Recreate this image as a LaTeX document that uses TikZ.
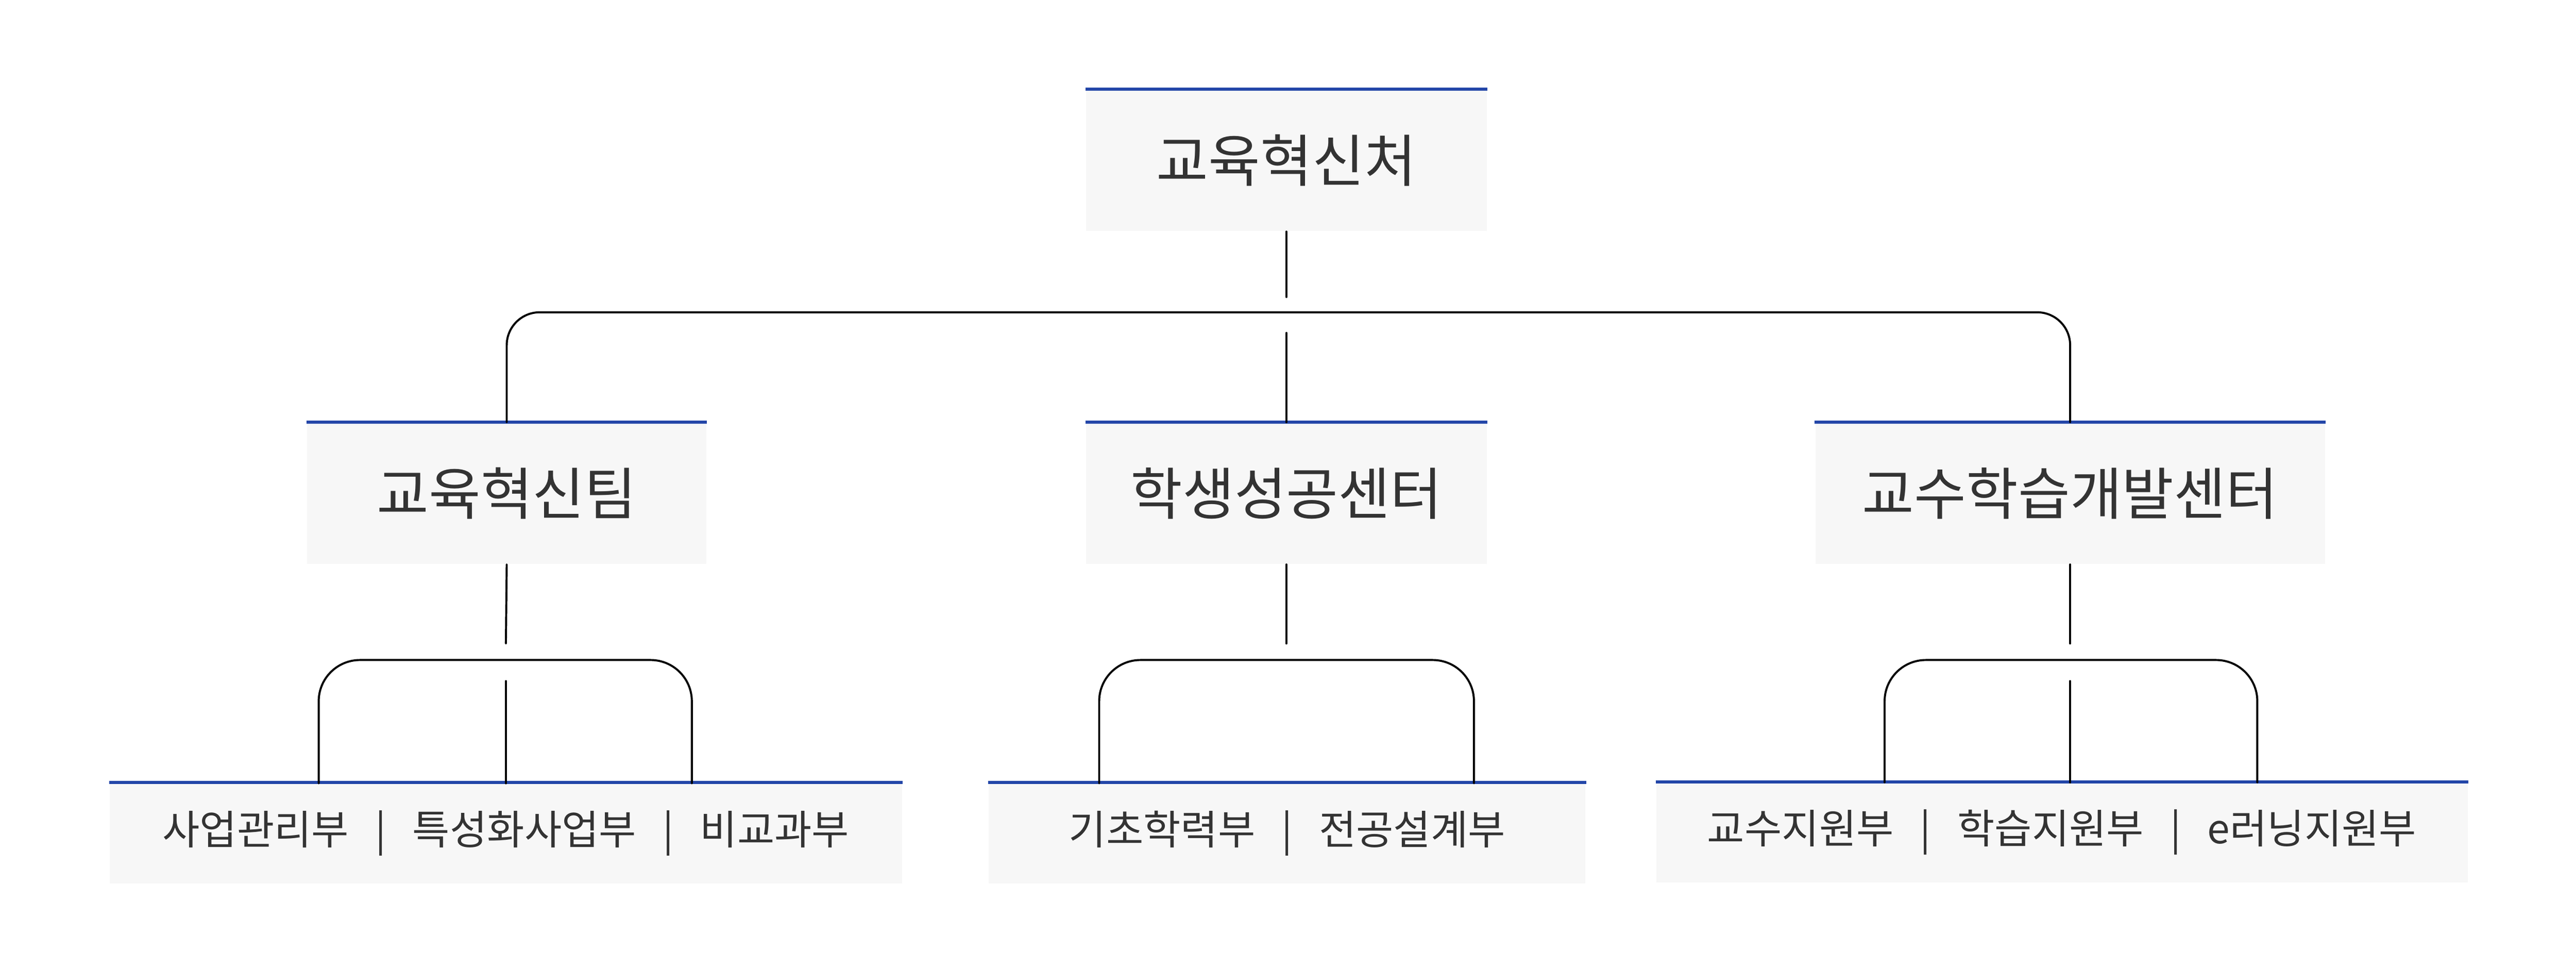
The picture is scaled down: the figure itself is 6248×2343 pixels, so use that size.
\documentclass[tikz,border=0pt]{standalone}
\usepackage{fontspec}
\setmainfont{Noto Sans CJK KR}
\definecolor{boxgray}{HTML}{F7F7F7}
\definecolor{topblue}{HTML}{2346A8}
\definecolor{textgray}{HTML}{333333}
\newcommand{\sep}{\hspace{0.32cm}|\hspace{0.32cm}}
\begin{document}
\begin{tikzpicture}[x=0.005cm,y=-0.005cm,
    unit/.style = {fill=boxgray, text=textgray, inner sep=0pt, minimum height=342*0.005cm},
    dept/.style = {fill=boxgray, text=textgray, inner sep=0pt, minimum height=243*0.005cm, font=\fontsize{14pt}{16pt}\selectfont},
    big/.style = {font=\fontsize{19.5pt}{22pt}\selectfont},
    link/.style = {line width=0.7pt, line cap=round},
    topline/.style = {topblue, line width=1.1pt}]
    \useasboundingbox (0,0) rectangle (6248,2343);
    \node[unit, big, minimum width=972*0.005cm] (chief) at (3120,389) {교육혁신처};
    \node[unit, big, minimum width=969*0.005cm] (teamA) at (1229,1196) {교육혁신팀};
    \node[unit, big, minimum width=972*0.005cm] (teamB) at (3120,1196) {학생성공센터};
    \node[unit, big, minimum width=1236*0.005cm] (teamC) at (5021,1196) {교수학습개발센터};
    \node[dept, minimum width=1921*0.005cm] (deptA) at (1227,2020) {사업관리부\sep 특성화사업부\sep 비교과부};
    \node[dept, minimum width=1447*0.005cm] (deptB) at (3122,2020) {기초학력부\sep 전공설계부};
    \node[dept, minimum width=1968*0.005cm] (deptC) at (5001,2018) {교수지원부\sep 학습지원부\sep e러닝지원부};
    \foreach \n in {chief,teamA,teamB,teamC,deptA,deptB,deptC}
        \draw[topline] (\n.north west) -- (\n.north east);
    % top level
    \coordinate (chiefEnd) at (3120,720);
    \coordinate (hub) at (3120,757);
    \coordinate (hubB) at (3120,807);
    \draw[link] (chief.south) -- (chiefEnd);
    \draw[link, rounded corners=80*0.005cm] (teamA.north) |- (hub) -| (teamC.north);
    \draw[link] (hubB) -- (teamB.north);
    % second level
    \coordinate (endA) at (1227,1560);
    \coordinate (endB) at (3120,1560);
    \coordinate (endC) at (5021,1560);
    \draw[link] (teamA.south) -- (endA);
    \draw[link] (teamB.south) -- (endB);
    \draw[link] (teamC.south) -- (endC);
    \coordinate (hubA) at (1227,1600);
    \coordinate (hubBB) at (3120,1600);
    \coordinate (hubC) at (5021,1600);
    \coordinate (a1) at (773,1899);
    \coordinate (a2) at (1678,1899);
    \coordinate (b1) at (2666,1899);
    \coordinate (b2) at (3575,1899);
    \coordinate (c1) at (4571,1897);
    \coordinate (c2) at (5475,1897);
    \draw[link, rounded corners=100*0.005cm] (a1) |- (hubA) -| (a2);
    \draw[link, rounded corners=100*0.005cm] (b1) |- (hubBB) -| (b2);
    \draw[link, rounded corners=100*0.005cm] (c1) |- (hubC) -| (c2);
    \coordinate (midA) at (1227,1651);
    \coordinate (midC) at (5021,1651);
    \draw[link] (midA) -- (1227,1899);
    \draw[link] (midC) -- (5021,1897);
\end{tikzpicture}
\end{document}
